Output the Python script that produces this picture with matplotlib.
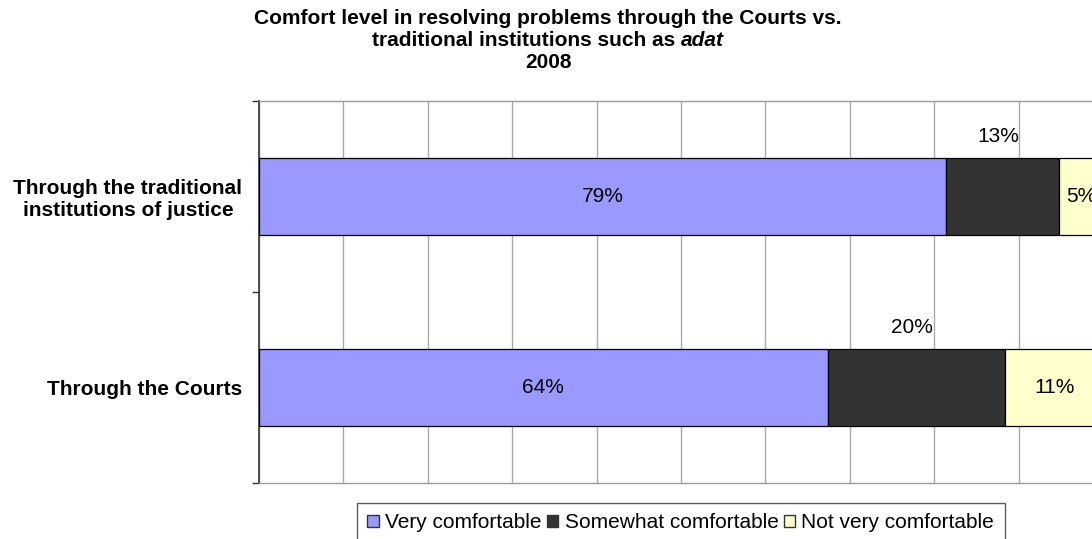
import numpy as np
import matplotlib
matplotlib.use("Agg")
import matplotlib.pyplot as plt
from matplotlib.patches import Patch

plt.rcParams['font.family'] = ['Liberation Sans', 'DejaVu Sans']

# data (shares as printed on the chart, each bar drawn as 100% stacked)
categories = ['Through the Courts', 'Through the traditional\ninstitutions of justice']
series = ['Very comfortable', 'Somewhat comfortable', 'Not very comfortable']
very = [64, 79]
somewhat = [20, 13]
not_very = [11, 5]
colors = ['#9999FF', '#333333', '#FFFFCC']

fs = 15

W, H = 1092, 539
fig = plt.figure(figsize=(W / 100, H / 100), dpi=100)
ax = fig.add_axes([259 / W, (H - 483) / H, 844 / W, 382 / H])

vals = np.array([very, somewhat, not_very], dtype=float)
shares = vals / vals.sum(axis=0) * 100
ypos = np.arange(len(categories))
bar_h = 0.4

left = np.zeros(len(categories))
for i, (name, col) in enumerate(zip(series, colors)):
    ax.barh(ypos, shares[i], left=left, height=bar_h, color=col,
            edgecolor='black', linewidth=0.9, zorder=3)
    for j in range(len(categories)):
        xc = left[j] + shares[i][j] / 2
        txt = '%d%%' % vals[i][j]
        if i == 1:
            # Excel put these labels above the bar
            ax.text(xc - 0.5, ypos[j] + bar_h / 2 + 0.115, txt, ha='center',
                    va='center', fontsize=fs, color='black', zorder=4)
        else:
            ax.text(xc, ypos[j], txt, ha='center', va='center', fontsize=fs,
                    color='black', zorder=4)
    left += shares[i]

ax.set_xlim(0, 100)
ax.set_ylim(-0.5, len(categories) - 0.5)
ax.set_xticks(np.arange(0, 101, 10))
ax.tick_params(axis='x', length=0, labelbottom=False)
ax.grid(axis='x', color='#ababab', linewidth=1.0, zorder=0)

ax.set_yticks(np.arange(-0.5, len(categories), 1.0))
ax.set_yticklabels([])
ax.tick_params(axis='y', which='major', length=5, width=1, color='#333333', direction='out')
ax.set_yticks(ypos, minor=True)
ax.set_yticklabels(categories, minor=True, fontsize=fs, fontweight='bold',
                   multialignment='center')
ax.tick_params(axis='y', which='minor', length=0, pad=12)

ax.spines['left'].set_color('#333333')
ax.spines['left'].set_linewidth(1.2)
for s in ['top', 'bottom', 'right']:
    ax.spines[s].set_color('#9a9a9a')
    ax.spines[s].set_linewidth(1.0)

# title, with "adat" in italics
cx = 548 / W
fig.text(cx, 1 - 9 / H, 'Comfort level in resolving problems through the Courts vs.',
         ha='center', va='top', fontsize=fs, fontweight='bold')
t1 = fig.text(0, 1 - 31 / H, 'traditional institutions such as ', ha='left', va='top',
              fontsize=fs, fontweight='bold')
t2 = fig.text(0, 1 - 31 / H, 'adat', ha='left', va='top', fontsize=fs,
              fontweight='bold', style='italic')
fig.text(cx, 1 - 53 / H, '2008', ha='center', va='top', fontsize=fs, fontweight='bold')
r = fig.canvas.get_renderer()
w1 = t1.get_window_extent(r).width
w2 = t2.get_window_extent(r).width
x0 = cx * W - (w1 + w2) / 2
t1.set_x(x0 / W)
t2.set_x((x0 + w1) / W)

handles = [Patch(facecolor=c, edgecolor='#333333', linewidth=1.0) for c in colors]
leg = fig.legend(handles, series, loc='upper left', bbox_to_anchor=(357 / W, 1 - 503 / H),
                 ncol=3, fontsize=fs, frameon=True, fancybox=False, borderaxespad=0,
                 handlelength=0.55, handleheight=0.55, handletextpad=0.3,
                 columnspacing=0.25, borderpad=0.5)
leg.get_frame().set_edgecolor('#333333')
leg.get_frame().set_linewidth(1.0)

fig.savefig('out.png', dpi=100)
